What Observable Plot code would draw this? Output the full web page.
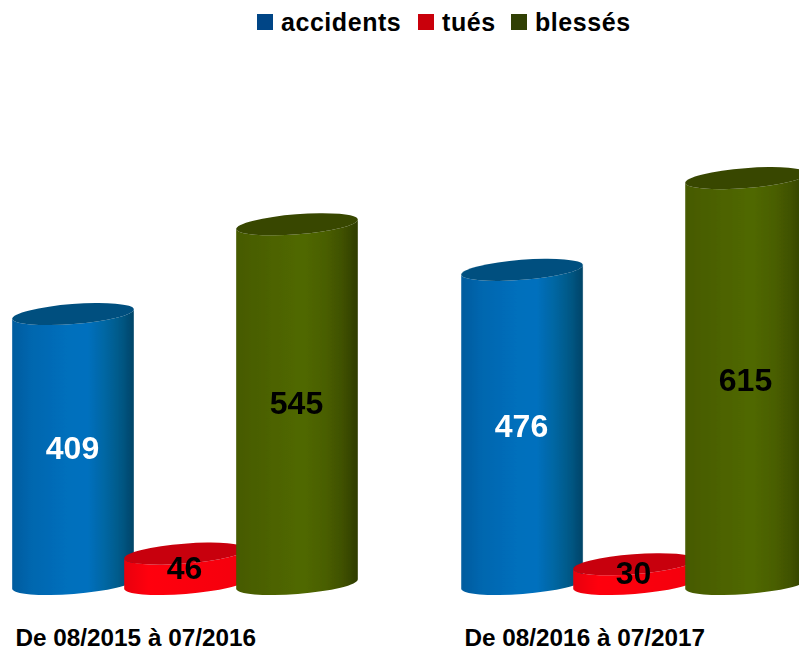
<!DOCTYPE html>
<html lang="fr">
<head>
<meta charset="utf-8">
<script src="https://cdn.jsdelivr.net/npm/d3@7"></script>
<script src="https://cdn.jsdelivr.net/npm/@observablehq/plot@0.6"></script>
<style>
  html, body { margin: 0; padding: 0; background: #fff; overflow: hidden; }
  body { width: 799px; height: 650px; font-family: "Liberation Sans", Arial, sans-serif; }
  #legend { position: relative; height: 46px; width: 799px; font-weight: bold; font-size: 25px; color: #000; }
  #legend span { position: absolute; top: 7px; line-height: 30px; letter-spacing: 0.55px; white-space: nowrap; }
  #legend i { position: absolute; top: 14px; width: 16px; height: 16px; }
  svg { display: block; overflow: hidden; }
</style>
</head>
<body>
<div id="legend"></div>
<div id="chart"></div>
<script>
const periods = ["De 08/2015 à 07/2016", "De 08/2016 à 07/2017"];
const seriesNames = ["accidents", "tués", "blessés"];
const accidents = [409, 476];
const tues = [46, 30];
const blesses = [545, 615];
const legendColors = ["#004586", "#c9000b", "#314004"];
const legendSwatchLeft = [257, 418, 511];
const legendTextLeft = [281, 442, 535];
const labelColors = ["#ffffff", "#000000", "#000000"];
const capColors = ["#00507f", "#c8000c", "#374600"];
const bodyStops = [
  [[0, "#005c9e"], [0.15, "#0066ae"], [0.45, "#006fbc"], [0.62, "#0070be"], [0.78, "#00659f"], [0.9, "#005784"], [1, "#004468"]],
  [[0, "#e8000c"], [0.2, "#ff0010"], [1, "#f4000c"]],
  [[0, "#465a00"], [0.3, "#4d6300"], [0.55, "#506800"], [0.72, "#4a6000"], [0.88, "#3f5000"], [1, "#2e3c00"]]
];

const valuesBySeries = [accidents, tues, blesses];
const rows = periods.flatMap((period, p) =>
  seriesNames.map((name, s) => ({period, name, s, value: valuesBySeries[s][p]}))
);

// Legend
const legend = d3.select("#legend");
seriesNames.forEach((name, i) => {
  legend.append("i").style("left", legendSwatchLeft[i] + "px").style("background", legendColors[i]);
  legend.append("span").style("left", legendTextLeft[i] + "px").text(name);
});

const tilt = 4.5, rx = 61, ry = 10;
const rad = tilt * Math.PI / 180;

// Turns each bar the library placed into a tilted cylinder
function cylinder(index, scales, values, dimensions, context, next) {
  const g = next(index, scales, values, dimensions, context);
  const ns = "http://www.w3.org/2000/svg";
  g.setAttribute("filter", "url(#soft)");
  g.querySelectorAll("rect").forEach((rect, i) => {
    const x = +rect.getAttribute("x"), y = +rect.getAttribute("y");
    const w = +rect.getAttribute("width"), h = +rect.getAttribute("height");
    const s = rows[index[i]].s;
    const cx = x + w / 2, dx = rx * Math.cos(rad), dy = rx * Math.sin(rad);
    const body = document.createElementNS(ns, "path");
    body.setAttribute("d",
      `M${cx - dx},${y + dy}L${cx - dx},${y + h + dy}` +
      `A${rx},${ry} ${-tilt} 0 0 ${cx + dx},${y + h - dy}` +
      `L${cx + dx},${y - dy}A${rx},${ry} ${-tilt} 0 1 ${cx - dx},${y + dy}Z`);
    body.setAttribute("fill", `url(#body-${s})`);
    const cap = document.createElementNS(ns, "ellipse");
    cap.setAttribute("cx", cx); cap.setAttribute("cy", y);
    cap.setAttribute("rx", rx); cap.setAttribute("ry", ry);
    cap.setAttribute("transform", `rotate(${-tilt} ${cx} ${y})`);
    cap.setAttribute("fill", capColors[s]);
    rect.replaceWith(body, cap);
  });
  return g;
}

function gradients() {
  const defs = d3.create("svg:defs");
  const soft = defs.append("filter").attr("id", "soft")
    .attr("x", "-5%").attr("y", "-5%").attr("width", "110%").attr("height", "110%");
  soft.append("feGaussianBlur").attr("stdDeviation", 0.5);
  bodyStops.forEach((stops, s) => {
    const lg = defs.append("linearGradient").attr("id", `body-${s}`)
      .attr("x1", 0).attr("x2", 1).attr("y1", 0).attr("y2", 0);
    stops.forEach(([o, c]) => lg.append("stop").attr("offset", o).attr("stop-color", c));
  });
  return defs.node();
}

const plot = Plot.plot({
  width: 799,
  height: 604,
  marginTop: 0,
  marginLeft: 17,
  marginRight: -3,
  marginBottom: 66,
  style: {fontFamily: "Liberation Sans, Arial, sans-serif", background: "transparent", overflow: "hidden"},
  fx: {domain: periods, paddingInner: 0.2517, paddingOuter: 0, align: 0, round: false, label: null},
  x: {domain: seriesNames, padding: 0, round: false, axis: null, label: null},
  y: {domain: [0, 800], range: [538, 10], axis: null, label: null},
  marks: [
    gradients,
    Plot.barY(rows, {
      fx: "period", x: "name", y: "value",
      insetLeft: -5, insetRight: -5,
      render: cylinder
    }),
    Plot.text(rows, {
      fx: "period", x: "name", y: d => d.value / 2,
      text: d => String(d.value),
      dx: -1, dy: -1,
      fontSize: 32, fontWeight: "bold",
      fill: {value: d => labelColors[d.s], scale: null}
    }),
    Plot.axisFx({
      anchor: "bottom", tickSize: 0, tickPadding: 44,
      fontSize: 24.3, fontWeight: "bold", fill: "#000",
      textAnchor: "start", dx: -170, label: null
    })
  ]
});
document.getElementById("chart").append(plot);
</script>
</body>
</html>
